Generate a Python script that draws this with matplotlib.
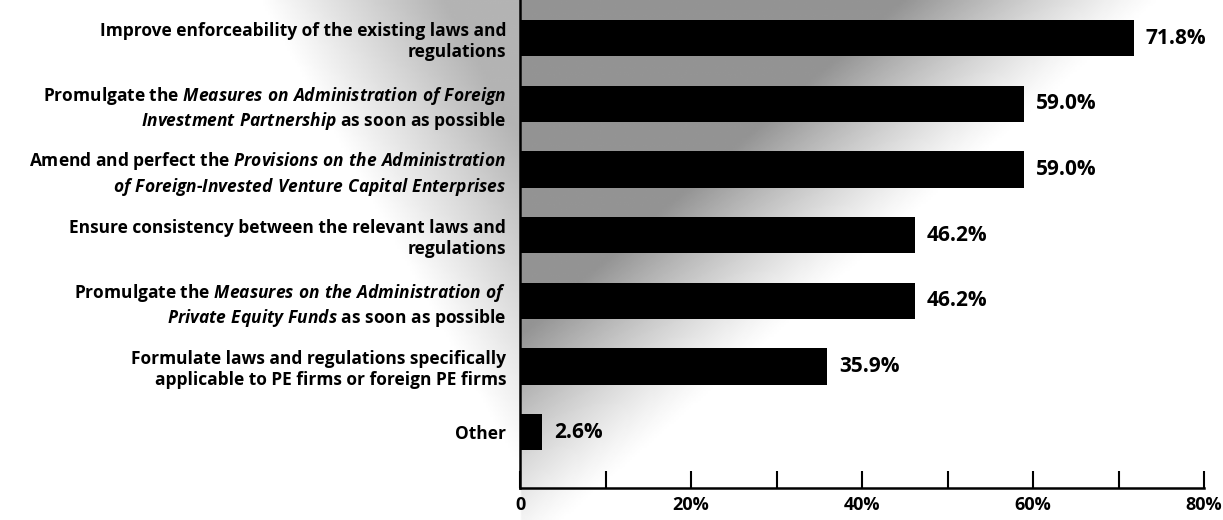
"""Horizontal bar chart: suggested improvements to PE laws and regulations."""
import matplotlib
matplotlib.use("Agg")
import matplotlib.pyplot as plt
import numpy as np
from matplotlib.ticker import MultipleLocator, FuncFormatter

plt.rcParams["font.family"] = ["Open Sans", "DejaVu Sans"]
plt.rcParams["font.weight"] = "bold"
plt.rcParams["mathtext.fontset"] = "custom"
plt.rcParams["mathtext.rm"] = "Open Sans:bold"
plt.rcParams["mathtext.it"] = "Open Sans:italic:bold"

labels = [
    "Improve enforceability of the existing laws and\nregulations",
    "Promulgate the $\\mathit{Measures\\ on\\ Administration\\ of\\ Foreign}$\n"
    "$\\mathit{Investment\\ Partnership}$ as soon as possible",
    "Amend and perfect the $\\mathit{Provisions\\ on\\ the\\ Administration}$\n"
    "$\\mathit{of\\ Foreign}$-$\\mathit{Invested\\ Venture\\ Capital\\ Enterprises}$",
    "Ensure consistency between the relevant laws and\nregulations",
    "Promulgate the $\\mathit{Measures\\ on\\ the\\ Administration\\ of}$\n"
    "$\\mathit{Private\\ Equity\\ Funds}$ as soon as possible",
    "Formulate laws and regulations specifically\napplicable to PE firms or foreign PE firms",
    "Other",
]
values = [71.8, 59.0, 59.0, 46.2, 46.2, 35.9, 2.6]
value_labels = ["71.8%", "59.0%", "59.0%", "46.2%", "46.2%", "35.9%", "2.6%"]

fig = plt.figure(figsize=(12.23, 5.2), dpi=100)

# scanned-look grey shading: a diagonal band behind the bars, fading right/down
bg = fig.add_axes([0, 0, 1, 1], zorder=-1)
xx, yy = np.meshgrid(np.linspace(0, 1223, 500), np.linspace(0, 520, 220))
u_right = (xx - 520) / 640 + yy / 560
u_left = (520 - xx) / 260 + yy / 470
dark = np.where(xx >= 520,
                np.clip((1 - u_right) / 0.4, 0, 1) ** 1.2,
                0.7 * np.clip((1 - u_left) / 0.7, 0, 1))
bg.imshow(1 - 0.42 * dark, cmap="gray", vmin=0, vmax=1, aspect="auto",
          extent=(0, 1223, 520, 0))
bg.axis("off")

ax = fig.add_axes([520 / 1223, 1 - 488 / 520, (1204 - 520) / 1223, 488 / 520])
ax.patch.set_alpha(0)
pos = np.arange(len(values))
ax.barh(pos, values, height=0.55, color="black")
for p, v, t in zip(pos, values, value_labels):
    ax.text(v + 1.4, p, t, va="center", ha="left", fontsize=15, fontweight="bold")

ax.set_xlim(0, 80)
ax.set_ylim(len(values) - 1 + 0.85, -0.58)
ax.set_yticks(pos)
ax.set_yticklabels(labels, fontsize=12.5, fontweight="bold", linespacing=1.2)
ax.tick_params(axis="y", length=0, pad=10)
ax.xaxis.set_major_locator(MultipleLocator(20))
ax.xaxis.set_minor_locator(MultipleLocator(10))
ax.xaxis.set_major_formatter(FuncFormatter(lambda v, _: "0" if v == 0 else f"{v:.0f}%"))
ax.tick_params(axis="x", which="both", direction="in", length=12, width=1.5, labelsize=13, pad=6)
for lab in ax.get_xticklabels():
    lab.set_fontweight("bold")
for s in ["top", "right"]:
    ax.spines[s].set_visible(False)
for s in ["left", "bottom"]:
    ax.spines[s].set_linewidth(1.8)

fig.savefig("out.png", dpi=100)
